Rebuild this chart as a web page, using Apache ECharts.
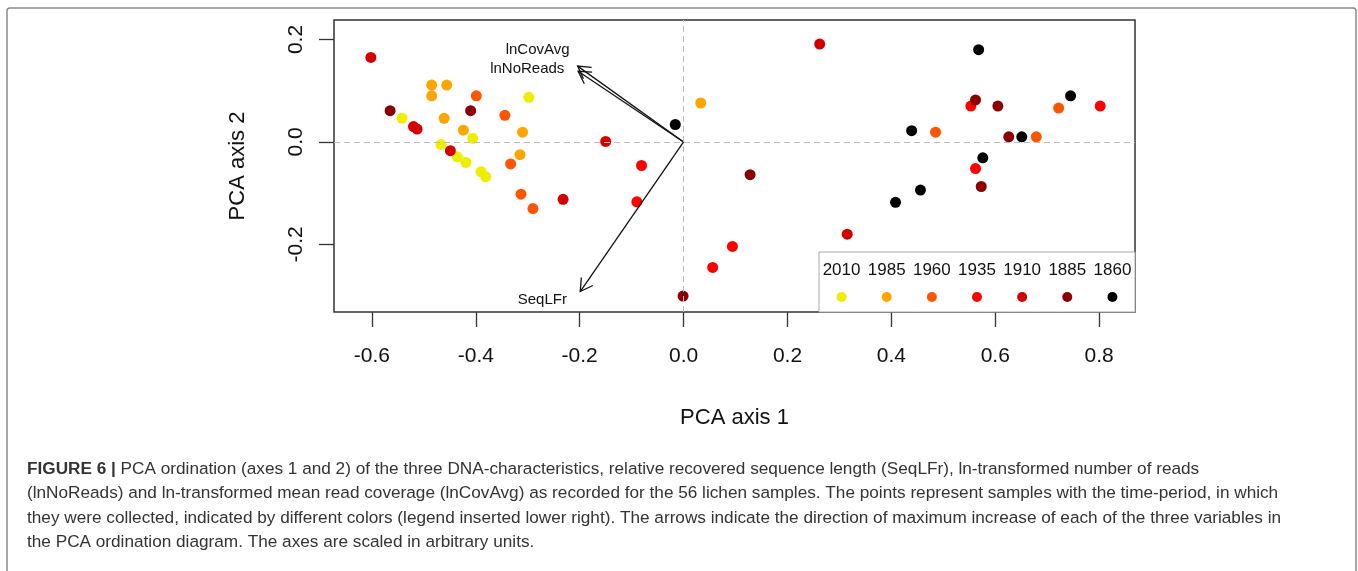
<!DOCTYPE html>
<html>
<head>
<meta charset="utf-8">
<script src="https://cdn.jsdelivr.net/npm/echarts@6/dist/echarts.min.js"></script>
<style>
html,body{margin:0;padding:0;background:#fff;}
#chart{width:1358px;height:571px;}
</style>
</head>
<body>
<div id="chart"></div>
<script>
// ---- data ----
const periods = ['2010','1985','1960','1935','1910','1885','1860'];
const periodColors = ['#EEEE00','#FFA500','#FF5500','#FF0000','#D40000','#8B0000','#000000'];

const pts2010 = [[-0.542,0.046],[-0.298,0.087],[-0.406,0.007],[-0.467,-0.005],[-0.436,-0.029],[-0.419,-0.040],[-0.390,-0.058],[-0.381,-0.068]];
const pts1985 = [[-0.485,0.111],[-0.456,0.111],[-0.485,0.090],[-0.461,0.046],[-0.424,0.023],[-0.310,0.019],[-0.315,-0.025],[0.033,0.076]];
const pts1960 = [[-0.399,0.090],[-0.344,0.052],[-0.333,-0.043],[-0.313,-0.102],[-0.290,-0.130],[0.485,0.019],[0.722,0.066],[0.679,0.010]];
const pts1935 = [[-0.081,-0.046],[-0.090,-0.117],[0.553,0.070],[0.802,0.070],[0.562,-0.052],[0.094,-0.204],[0.056,-0.245]];
const pts1910 = [[-0.602,0.165],[-0.520,0.030],[-0.513,0.025],[-0.449,-0.017],[-0.232,-0.112],[-0.150,0.001],[0.262,0.191],[0.315,-0.180]];
const pts1885 = [[-0.565,0.061],[-0.410,0.061],[0.562,0.082],[0.605,0.070],[0.626,0.010],[0.573,-0.087],[0.128,-0.064],[-0.001,-0.301]];
const pts1860 = [[-0.016,0.034],[0.568,0.180],[0.745,0.090],[0.439,0.022],[0.651,0.010],[0.576,-0.031],[0.456,-0.094],[0.408,-0.118]];
const periodPoints = [pts2010,pts1985,pts1960,pts1935,pts1910,pts1885,pts1860];

const arrowNames = ['lnCovAvg','lnNoReads','SeqLFr'];
const arrowX = [-0.204,-0.203,-0.199];
const arrowY = [0.148,0.138,-0.292];
const arrowLabelX = [-0.281,-0.301,-0.272];
const arrowLabelY = [0.180,0.142,-0.309];

const xTicks = [-0.6,-0.4,-0.2,0.0,0.2,0.4,0.6,0.8];
const yTicks = [-0.2,0.0,0.2];
const xRange = [-0.673,0.869];
const yRange = [-0.332,0.238];

const captionLines = [
  'PCA ordination (axes 1 and 2) of the three DNA-characteristics, relative recovered sequence length (SeqLFr), ln-transformed number of reads',
  '(lnNoReads) and ln-transformed mean read coverage (lnCovAvg) as recorded for the 56 lichen samples. The points represent samples with the time-period, in which',
  'they were collected, indicated by different colors (legend inserted lower right). The arrows indicate the direction of maximum increase of each of the three variables in',
  'the PCA ordination diagram. The axes are scaled in arbitrary units.'
];

// ---- chart ----
const FONT = 'Liberation Sans, Arial, sans-serif';
const chart = echarts.init(document.getElementById('chart'), null, {renderer:'canvas'});

const series = [];
// zero dashed lines
series.push({
  type:'scatter', xAxisIndex:0, yAxisIndex:0, data:[], silent:true,
  markLine:{
    silent:true, symbol:['none','none'], label:{show:false},
    lineStyle:{color:'#bbbbbb', type:[6,4], width:1},
    data:[{xAxis:0},{yAxis:0}]
  }
});
periods.forEach((p,i)=>{
  series.push({
    name:p, type:'scatter', xAxisIndex:0, yAxisIndex:0,
    symbol:'circle', symbolSize:11,
    itemStyle:{color:periodColors[i], opacity:1},
    data:periodPoints[i], z:3
  });
});
// arrows
series.push({
  type:'custom', xAxisIndex:0, yAxisIndex:0, z:4, silent:true,
  data: arrowNames.map((n,i)=>[arrowX[i],arrowY[i],arrowLabelX[i],arrowLabelY[i]]),
  renderItem:function(params, api){
    const s = api.coord([0,0]);
    const e = api.coord([api.value(0), api.value(1)]);
    const l = api.coord([api.value(2), api.value(3)]);
    const ang = Math.atan2(e[1]-s[1], e[0]-s[0]);
    const hl = 14, ha = Math.PI/6;
    const h1 = [e[0]-hl*Math.cos(ang-ha), e[1]-hl*Math.sin(ang-ha)];
    const h2 = [e[0]-hl*Math.cos(ang+ha), e[1]-hl*Math.sin(ang+ha)];
    const st = {stroke:'#111', lineWidth:1.3, fill:null};
    return {type:'group', children:[
      {type:'line', shape:{x1:s[0],y1:s[1],x2:e[0],y2:e[1]}, style:st},
      {type:'polyline', shape:{points:[h1,e,h2]}, style:st},
      {type:'text', x:l[0], y:l[1], style:{text:arrowNames[params.dataIndex], fill:'#111', font:'15px '+FONT, textAlign:'center', textVerticalAlign:'middle'}}
    ]};
  }
});
// legend inset
series.push({
  type:'scatter', xAxisIndex:1, yAxisIndex:1, symbol:'circle', symbolSize:10, z:10,
  itemStyle:{opacity:1},
  data: periods.map((p,i)=>({value:[i,0.25], itemStyle:{color:periodColors[i], opacity:1}})),
  label:{show:true, position:'top', distance:13, formatter:(d)=>periods[d.dataIndex], color:'#111', fontSize:17, fontFamily:FONT}
});

const option = {
  backgroundColor:'#ffffff',
  animation:false,
  textStyle:{fontFamily:FONT},
  title:{
    left:22, top:452,
    text:'{b|FIGURE 6 |} ' + captionLines.join('\n'),
    textStyle:{
      fontFamily:FONT, fontSize:17.2, fontWeight:'normal', color:'#333', lineHeight:24.5,
      rich:{b:{fontWeight:'bold', fontFamily:FONT, fontSize:17.2, color:'#333', lineHeight:24.5}}
    }
  },
  graphic:[{
    type:'rect', z:-1, silent:true,
    shape:{x:7,y:8,width:1349,height:600, r:3},
    style:{fill:null, stroke:'#8a8a8a', lineWidth:1.5}
  }],
  grid:[
    {left:334, top:20, width:801, height:292, show:true, borderColor:'#333', borderWidth:1.5, backgroundColor:'transparent', containLabel:false},
    {left:819, top:252, width:316, height:60, show:true, borderColor:'#aaaaaa', borderWidth:1, backgroundColor:'#ffffff', z:1}
  ],
  xAxis:[
    {type:'value', gridIndex:0, min:xRange[0], max:xRange[1],
     name:'PCA axis 1', nameLocation:'middle', nameGap:95,
     nameTextStyle:{fontSize:22, color:'#111', fontFamily:FONT},
     axisLine:{show:false, onZero:false}, splitLine:{show:false},
     axisTick:{show:true, customValues:xTicks, length:15, inside:false, lineStyle:{color:'#333', width:1.3}},
     axisLabel:{show:true, customValues:xTicks, margin:34, fontSize:21, color:'#111', fontFamily:FONT, formatter:(v)=>Number(v).toFixed(1)}
    },
    {type:'category', gridIndex:1, data:periods, boundaryGap:true, show:false}
  ],
  yAxis:[
    {type:'value', gridIndex:0, min:yRange[0], max:yRange[1],
     name:'PCA axis 2', nameLocation:'middle', nameGap:85,
     nameTextStyle:{fontSize:22, color:'#111', fontFamily:FONT},
     axisLine:{show:false, onZero:false}, splitLine:{show:false},
     axisTick:{show:true, customValues:yTicks, length:15, inside:false, lineStyle:{color:'#333', width:1.3}},
     axisLabel:{show:true, customValues:yTicks, rotate:90, margin:27, fontSize:21, color:'#111', fontFamily:FONT, formatter:(v)=>Number(v).toFixed(1)}
    },
    {type:'value', gridIndex:1, min:0, max:1, show:false}
  ],
  series:series
};
chart.setOption(option);
</script>
</body>
</html>
